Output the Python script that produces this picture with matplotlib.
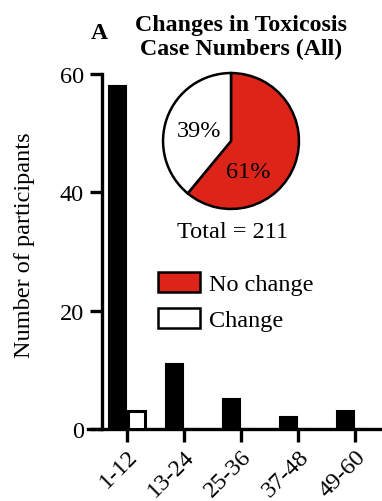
import matplotlib
matplotlib.use("Agg")
import matplotlib.pyplot as plt
import numpy as np

# data
categories = ["1-12", "13-24", "25-36", "37-48", "49-60"]
black_vals = [58, 11, 5, 2, 3]
white_vals = [3, 0, 0, 0, 0]
pie_vals = [61, 39]
pie_labels = ["No change", "Change"]
pie_pct = ["61%", "39%"]
total = 211

plt.rcParams['font.family'] = ['Liberation Serif', 'DejaVu Serif']
fs = 17.5
red = '#dc2418'

W, H = 382, 502
fig = plt.figure(figsize=(W / 100, H / 100), dpi=100)

# bar axes (pixel placement converted to figure fractions)
ax = fig.add_axes([88 / W, (H - 430) / H, 294 / W, 355 / H])
x = np.arange(len(categories))
bw = 0.30
off = 0.17
ax.bar(x - off, black_vals, width=bw, color='black', edgecolor='black', linewidth=1.5, zorder=3)
ax.bar(x + off, white_vals, width=bw, color='white', edgecolor='black', linewidth=2.2, zorder=3)

ax.set_xlim(-0.684, -0.684 + 294 / 57)
ax.set_ylim(0, 60)
ax.spines['top'].set_visible(False)
ax.spines['right'].set_visible(False)
ax.spines['left'].set_position(('data', -0.44))
ax.spines['left'].set_bounds(0, 60)
ax.spines['left'].set_linewidth(2.4)
ax.spines['bottom'].set_linewidth(2.4)
ax.set_yticks([0, 20, 40, 60])
ax.set_xticks(x)
ax.set_xticklabels(categories, rotation=45, ha='right', va='top', rotation_mode='anchor')
ax.tick_params(axis='y', length=9, width=2.4, labelsize=fs, pad=4)
ax.tick_params(axis='x', length=9, width=2.4, labelsize=fs, pad=3)
ax.set_ylabel('Number of participants', fontsize=fs, va='center')
ax.yaxis.set_label_coords((25 - 88) / 294, (430 - 245) / 355)

# pie inset
pax = fig.add_axes([161 / W, (H - 212) / H, 140 / W, 140 / H])
wedges, _ = pax.pie(pie_vals, colors=[red, 'white'], startangle=90, counterclock=False,
                    wedgeprops=dict(edgecolor='black', linewidth=1.8))
pax.set_xlim(-1.03, 1.03)
pax.set_ylim(-1.03, 1.03)
pax.set_aspect('equal')
pax.text(0.25, -0.45, pie_pct[0], ha='center', va='center', fontsize=fs)
pax.text(-0.47, 0.16, pie_pct[1], ha='center', va='center', fontsize=fs)

fig.text(233 / W, 1 - 232 / H, f"Total = {total}", ha='center', va='center', fontsize=fs)

fig.legend(wedges, pie_labels, loc='upper left', bbox_to_anchor=(158 / W, 1 - 273 / H),
           frameon=False, fontsize=fs, handlelength=1.73, handleheight=0.9,
           handletextpad=0.35, labelspacing=0.5, borderpad=0, borderaxespad=0)

fig.text(241 / W, 1 - 37.5 / H, "Changes in Toxicosis\nCase Numbers (All)", ha='center',
         va='center', fontsize=17.2, fontweight='bold', linespacing=1.12)
fig.text(99 / W, 1 - 34 / H, "A", ha='center', va='center', fontsize=17, fontweight='bold')

fig.savefig("out.png", dpi=100)
